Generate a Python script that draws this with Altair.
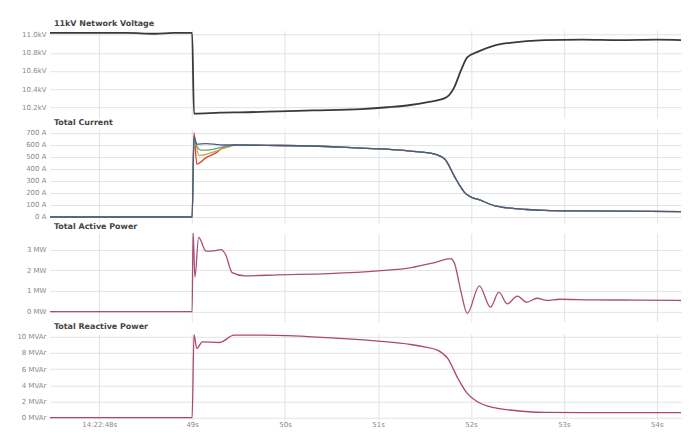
import altair as alt
import pandas as pd

# ---------------- data ----------------
ticks_s = [48, 49, 50, 51, 52, 53, 54]

volt_t = [47.47, 47.9, 48.3, 48.6, 48.8, 49.0, 49.02, 49.3, 49.6, 49.93, 50.3, 50.82,
          51.1, 51.35, 51.55, 51.72, 51.82, 51.89, 51.96, 52.07, 52.25, 52.42, 52.79,
          53.2, 53.6, 54.0, 54.26]
volt_kv = [11.02, 11.02, 11.02, 11.01, 11.02, 11.02, 10.13, 10.14, 10.145, 10.155, 10.165, 10.18,
           10.20, 10.225, 10.26, 10.30, 10.42, 10.60, 10.75, 10.81, 10.88, 10.91, 10.94,
           10.945, 10.94, 10.945, 10.94]

cur_common_t = [49.45, 49.8, 50.3, 50.82, 51.2, 51.35, 51.6, 51.72, 51.82, 51.88, 51.93,
                52.0, 52.07, 52.25, 52.4, 52.6, 52.79, 53.2, 53.6, 54.26]
cur_common_a = [598, 595, 590, 572, 558, 548, 525, 480, 340, 260, 205,
                165, 148, 95, 75, 62, 55, 50, 48, 45]

cur_pre_t = [47.47, 49.0]
cur_pre_a = [0, 0]

cur_red_t = [49.02, 49.05, 49.15, 49.26, 49.32, 49.43]
cur_red_a = [700, 440, 493, 535, 570, 592]
cur_orange_t = [49.02, 49.075, 49.21, 49.32, 49.43]
cur_orange_a = [660, 510, 535, 565, 592]
cur_green_t = [49.02, 49.05, 49.1, 49.21, 49.32, 49.43]
cur_green_a = [650, 590, 555, 560, 580, 595]
cur_blue_t = [49.02, 49.05, 49.15, 49.3, 49.43]
cur_blue_a = [672, 605, 610, 600, 598]

act_t = [47.47, 49.0, 49.01, 49.03, 49.07, 49.15, 49.25, 49.31, 49.36, 49.43, 49.57, 49.93,
         50.47, 51.0, 51.36, 51.61, 51.78, 51.82, 51.89, 51.96, 52.09, 52.21, 52.30, 52.39,
         52.50, 52.60, 52.71, 52.82, 52.95, 53.3, 53.8, 54.26]
act_mw = [0, 0, 3.87, 1.67, 3.59, 2.92, 2.95, 3.0, 2.76, 1.89, 1.73, 1.78,
          1.84, 1.97, 2.13, 2.37, 2.56, 2.37, 1.02, -0.08, 1.25, 0.22, 0.94, 0.38,
          0.75, 0.46, 0.65, 0.55, 0.6, 0.57, 0.56, 0.54]

rea_t = [47.47, 49.0, 49.02, 49.05, 49.11, 49.29, 49.32, 49.45, 49.75, 50.29, 51.0, 51.35,
         51.5, 51.64, 51.75, 51.86, 51.96, 52.07, 52.25, 52.42, 52.79, 53.5, 54.26]
rea_mvar = [0, 0, 10.28, 8.56, 9.38, 9.3, 9.38, 10.2, 10.2, 10.0, 9.47, 9.05,
            8.75, 8.36, 7.32, 4.85, 3.0, 1.98, 1.23, 0.95, 0.65, 0.62, 0.62]

volt_ticks = [10.2, 10.4, 10.6, 10.8, 11.0]
cur_ticks = [0, 100, 200, 300, 400, 500, 600, 700]
act_ticks = [0, 1, 2, 3]
rea_ticks = [0, 2, 4, 6, 8, 10]

# ---------------- styling ----------------
FONT = "DejaVu Sans"
W = 632
X_DOMAIN = [47.47, 54.26]
GRID = "#e3e3e3"
LABEL = "#8a8a8a"


def xenc(show):
    return alt.X(
        "t:Q",
        scale=alt.Scale(domain=X_DOMAIN, nice=False, zero=False),
        axis=alt.Axis(values=ticks_s,
                      labelExpr="datum.value == 48 ? '14:22:48s' : datum.value + 's'",
                      title=None, grid=True, gridColor=GRID, domain=False, ticks=False,
                      labels=show, labelFontSize=7, labelColor=LABEL, labelFont=FONT,
                      labelPadding=1),
    )


def yenc(field, domain, values, expr):
    return alt.Y(
        field + ":Q",
        scale=alt.Scale(domain=domain, nice=False, zero=False),
        axis=alt.Axis(values=values, labelExpr=expr, title=None, grid=True,
                      gridColor=GRID, domain=False, ticks=False, labelFontSize=7,
                      labelColor=LABEL, labelFont=FONT, labelPadding=4,
                      minExtent=38, maxExtent=38),
    )


def ttl(text):
    return alt.TitleParams(text, anchor="start", frame="group", fontSize=8,
                           fontWeight="bold", color="#444", font=FONT, offset=2, dx=4)


# voltage panel
df_v = pd.DataFrame({"t": volt_t, "v": volt_kv})
p1 = alt.Chart(df_v, title=ttl("11kV Network Voltage")).mark_line(
    color="#3a3a3a", strokeWidth=1.8, clip=True, interpolate="monotone"
).encode(
    x=xenc(False),
    y=yenc("v", [10.08, 11.048], volt_ticks, "format(datum.value, '.1f') + 'kV'"),
).properties(width=W, height=88)

# current panel
def phase(ts, vals, color):
    t = cur_pre_t + ts + cur_common_t
    a = cur_pre_a + vals + cur_common_a
    return alt.Chart(pd.DataFrame({"t": t, "a": a})).mark_line(
        color=color, strokeWidth=1.3, clip=True, interpolate="monotone"
    ).encode(
        x=xenc(False),
        y=yenc("a", [-50, 730], cur_ticks, "datum.value + ' A'"),
    )

p2 = alt.layer(
    phase(cur_red_t, cur_red_a, "#d6452f"),
    phase(cur_orange_t, cur_orange_a, "#d9a441"),
    phase(cur_green_t, cur_green_a, "#5aa58a"),
    phase(cur_blue_t, cur_blue_a, "#4a5a86"),
    title=ttl("Total Current"),
).properties(width=W, height=94)

# active power
df_a = pd.DataFrame({"t": act_t, "p": act_mw})
p3 = alt.Chart(df_a, title=ttl("Total Active Power")).mark_line(
    color="#a84f78", strokeWidth=1.3, clip=True, interpolate="monotone"
).encode(
    x=xenc(False),
    y=yenc("p", [-0.49, 3.8], act_ticks, "datum.value + ' MW'"),
).properties(width=W, height=89)

# reactive power
df_r = pd.DataFrame({"t": rea_t, "q": rea_mvar})
p4 = alt.Chart(df_r, title=ttl("Total Reactive Power")).mark_line(
    color="#b0466e", strokeWidth=1.3, clip=True, interpolate="monotone"
).encode(
    x=xenc(True),
    y=yenc("q", [-0.25, 10.37], rea_ticks, "datum.value + ' MVAr'"),
).properties(width=W, height=86)

chart = alt.vconcat(p1, p2, p3, p4, spacing=0).properties(
    padding={"left": 4, "top": 12, "right": 5, "bottom": 3},
    background="white",
).configure_view(stroke=None)

chart.save("out.html", embed_options={"renderer": "svg", "actions": False})
